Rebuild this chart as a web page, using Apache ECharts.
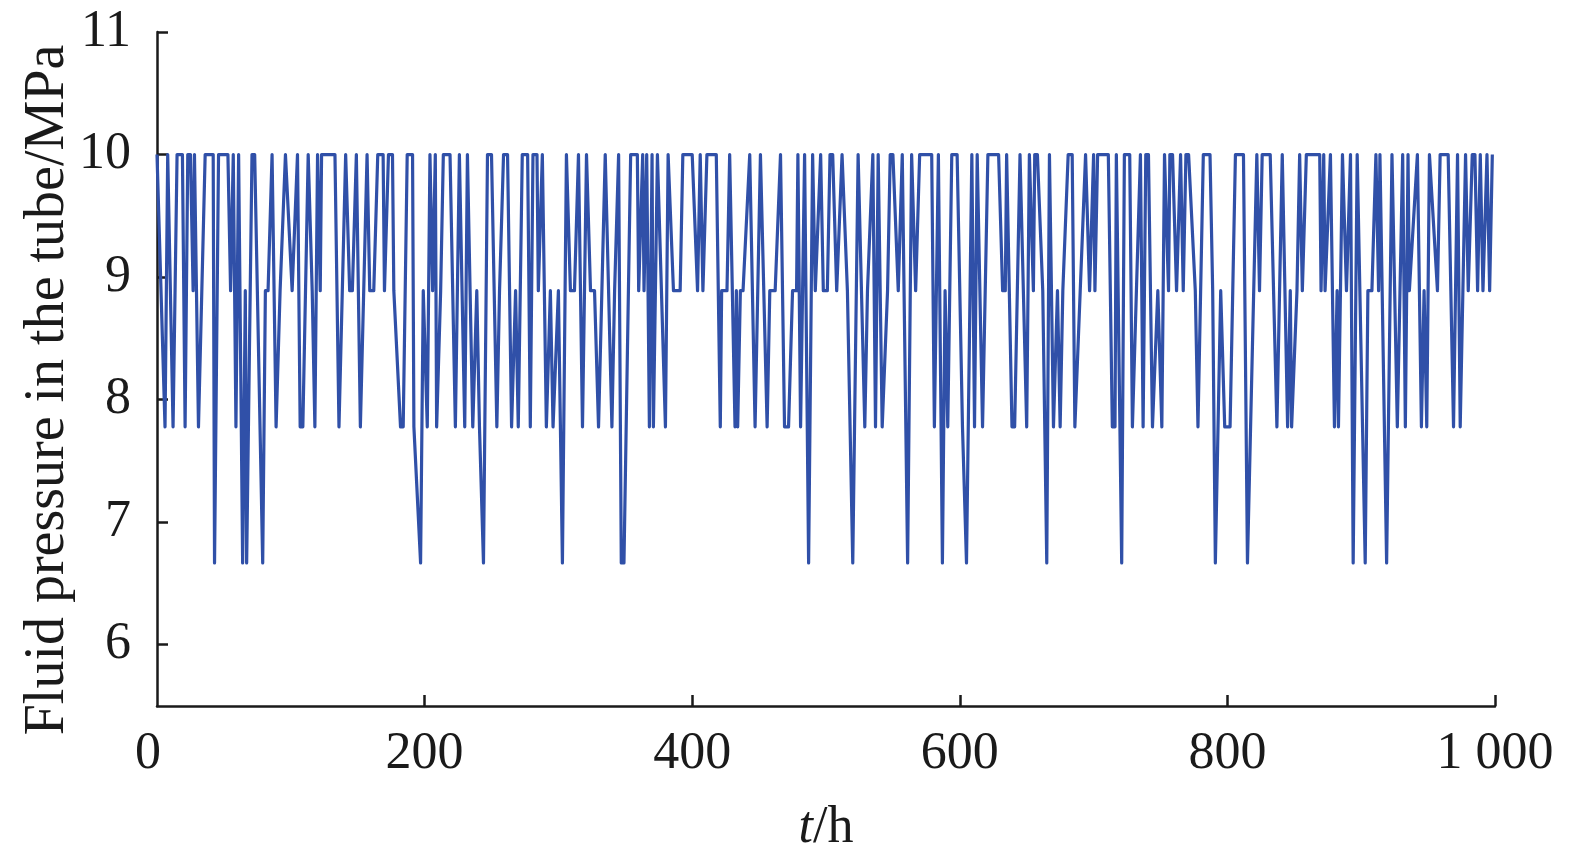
<!DOCTYPE html>
<html>
<head>
<meta charset="utf-8">
<script src="https://cdn.jsdelivr.net/npm/echarts@6/dist/echarts.min.js"></script>
<style>html,body{margin:0;padding:0;background:#fff;}#c{width:1575px;height:864px;}</style>
</head>
<body>
<div id="c"></div>
<script>
// Pressure levels (MPa)
const A = 10, B = 8.889, C = 7.778, D = 6.667;
// Time (h) of each vertex
const times = [
0,6,8,12,15,19,21,23,25,27,28,31,36,42,43,46,53,55,57,59,61,64,66,67,71,73,75,79,
81,83,86,87,89,92,93,96,101,105,107,109,113,116,118,120,122,123,133,136,141,144,146,149,152,157,159,162,
165,169,170,173,176,177,182,184,187,191,192,197,199,202,204,206,208,209,212,214,219,223,226,230,232,236,239,241,244,
247,250,254,256,259,262,265,268,270,271,273,277,279,281,284,285,288,291,294,296,300,303,306,309,312,315,318,321,324,327,
330,335,336,340,342,345,347,349,354,359,360,363,364,366,368,370,371,374,380,382,386,391,393,400,404,406,
408,411,418,421,422,426,428,432,433,434,436,438,443,447,451,456,458,462,466,469,472,475,478,479,481,484,487,490,
492,496,498,501,503,505,508,512,516,517,520,524,529,531,535,537,539,542,546,548,550,554,557,561,564,567,570,
579,581,584,587,589,591,594,598,602,605,609,611,613,617,621,629,632,634,635,639,641,645,650,652,655,
656,658,662,665,667,670,673,675,677,681,684,686,690,694,697,700,701,703,711,714,716,717,721,723,727,729,732,735,737,
739,741,744,748,751,753,756,757,759,762,765,767,769,771,776,778,782,787,789,791,795,798,802,804,806,812,815,
822,824,826,832,837,841,845,847,848,852,854,856,859,869,870,872,873,877,880,882,883,886,889,892,894,897,899,
903,905,908,911,913,914,919,923,927,931,933,935,936,942,945,947,949,951,957,959,965,969,972,974,978,980,983,985,987,989,991,994,996,998
];
// Pressure at each vertex (MPa)
const pressure = [
A,C,A,C,A,A,C,A,A,B,A,C,A,A,D,A,A,B,A,C,A,D,B,D,A,A,B,D,
B,B,A,A,C,B,B,A,B,A,C,C,A,B,C,A,B,A,A,C,A,B,B,A,C,A,B,B,
A,A,B,A,A,B,C,C,A,A,C,D,B,C,A,B,A,C,B,A,A,C,A,C,A,C,B,C,D,
A,A,C,B,A,A,C,B,C,C,A,A,C,A,A,B,A,C,B,C,B,D,A,B,B,A,C,A,B,B,
C,A,A,C,B,A,D,D,A,A,B,A,B,A,C,A,C,A,C,A,B,B,A,A,B,A,
B,A,A,C,B,B,A,C,B,C,B,B,A,C,A,C,B,B,A,C,C,B,B,A,C,A,D,A,
B,A,B,B,A,A,B,A,B,B,D,A,C,B,A,C,A,C,B,A,A,B,A,D,A,B,A,
A,C,A,D,B,C,A,A,C,D,A,C,A,C,A,A,B,B,A,C,C,A,C,A,B,
A,A,B,D,A,C,B,C,B,A,A,C,B,A,B,A,B,A,A,C,C,A,D,A,A,C,B,A,C,
A,A,C,B,C,A,B,A,A,B,A,B,A,A,B,C,A,A,B,D,B,C,C,B,A,A,D,
A,B,A,A,C,A,C,B,C,B,A,B,A,A,B,A,B,A,C,B,C,A,B,A,D,A,B,
D,B,B,A,B,A,D,A,C,A,C,A,B,A,C,B,C,A,B,A,A,C,A,C,A,B,A,A,B,A,B,A,B,A
];
const xTicks = [0, 200, 400, 600, 800, 1000];
const yTicks = [6, 7, 8, 9, 10, 11];
const yTitle = 'Fluid pressure in the tube/MPa';

const seriesData = times.map((t, i) => [t, pressure[i]]);
const serif = '"Liberation Serif", "Times New Roman", serif';

const chart = echarts.init(document.getElementById('c'), null, {renderer: 'canvas'});
chart.setOption({
  animation: false,
  backgroundColor: '#ffffff',
  grid: {left: 157, right: 80, top: 32, bottom: 158, containLabel: false},
  graphic: [{
    type: 'text', x: 48, y: 390, rotation: Math.PI / 2,
    style: {text: yTitle, fontFamily: serif, fontSize: 56, fill: '#1a1a1a', align: 'center', verticalAlign: 'middle'}
  }],
  xAxis: {
    type: 'value', min: 0, max: 1000, interval: 200,
    name: '{i|t}/h', nameLocation: 'middle', nameGap: 96,
    nameTextStyle: {fontFamily: serif, fontSize: 52, color: '#1a1a1a',
      rich: {i: {fontFamily: serif, fontSize: 52, fontStyle: 'italic', color: '#1a1a1a'}}},
    axisLine: {show: true, onZero: false, lineStyle: {color: '#1a1a1a', width: 2.5}},
    axisTick: {show: true, inside: true, length: 11, lineStyle: {color: '#1a1a1a', width: 2.5}, customValues: [200, 400, 600, 800, 1000]},
    axisLabel: {fontFamily: serif, fontSize: 52, color: '#1a1a1a', margin: 22, customValues: xTicks,
      rich: {z: {fontFamily: serif, fontSize: 52, color: '#1a1a1a', padding: [0, 18, 0, 0]}},
      formatter: v => v === 0 ? '{z|0}' : (v >= 1000 ? String(v).replace(/(\d)(\d{3})$/, '$1 $2') : String(v))},
    splitLine: {show: false}
  },
  yAxis: {
    type: 'value', min: 5.5, max: 11, interval: 0.5,
    axisLine: {show: true, onZero: false, lineStyle: {color: '#1a1a1a', width: 2.5}},
    axisTick: {show: true, inside: true, length: 11, lineStyle: {color: '#1a1a1a', width: 2.5}, customValues: yTicks},
    axisLabel: {fontFamily: serif, fontSize: 52, color: '#1a1a1a', margin: 26, customValues: yTicks},
    splitLine: {show: false}
  },
  series: [{
    type: 'line', data: seriesData, showSymbol: false, symbol: 'none',
    lineStyle: {color: '#3050a8', width: 3.2, join: 'round'},
    clip: true
  }]
});
</script>
</body>
</html>
